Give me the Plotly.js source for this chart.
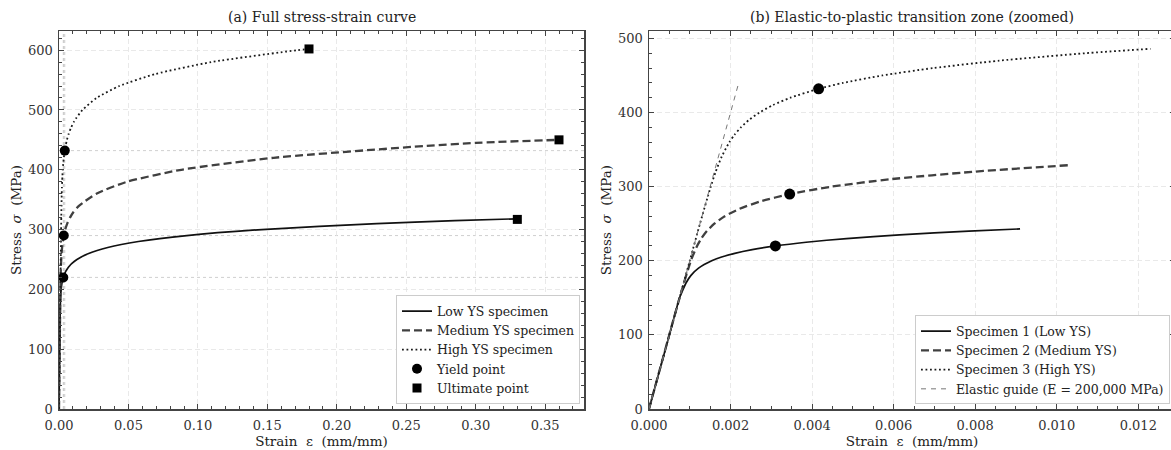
<!DOCTYPE html>
<html><head><meta charset="utf-8">
<script src="https://cdn.plot.ly/plotly-3.0.1.min.js"></script>
<style>html,body{margin:0;padding:0;overflow:hidden;background:#fff}#chart{width:1180px;height:450px}</style>
</head><body><div id="chart"></div>
<script>
// ---- data ----
var s1Strain = [0, 0.0005, 0.00075, 0.000825, 0.000907, 0.001025, 0.001215, 0.001537, 0.00178, 0.002103, 0.002531, 0.0031, 0.003852, 0.004844, 0.006145, 0.007845, 0.0091, 0.01292, 0.02136, 0.03511, 0.05716, 0.09199, 0.146, 0.2288, 0.285, 0.33];
var s1Stress = [0, 100, 150, 160, 170, 180, 190, 200, 205, 210, 215, 220, 225, 230, 235, 240, 243, 250, 260, 270, 280, 290, 300, 310, 315, 318];

var s2Strain = [0, 0.00075, 0.001026, 0.001179, 0.001283, 0.001419, 0.001602, 0.001857, 0.002217, 0.002727, 0.00345, 0.004474, 0.005914, 0.007927, 0.0103, 0.01456, 0.0269, 0.04916, 0.08812, 0.1545, 0.2648, 0.30, 0.36];
var s2Stress = [0, 150, 200, 220, 230, 240, 250, 260, 270, 280, 290, 300, 310, 320, 329, 340, 360, 380, 400, 420, 440, 445, 450];

var s3Strain = [0, 0.001, 0.00125, 0.001515, 0.001635, 0.001779, 0.001971, 0.002097, 0.002254, 0.002453, 0.002708, 0.003038, 0.003467, 0.00416, 0.004762, 0.00572, 0.006969, 0.008591, 0.010694, 0.0123, 0.01689, 0.02704, 0.04337, 0.06926, 0.1096, 0.1717, 0.18];
var s3Stress = [0, 200, 250, 300, 320, 340, 360, 370, 380, 390, 400, 410, 420, 432, 440, 450, 460, 470, 480, 486, 500, 520, 540, 560, 580, 600, 602];

var zoomEnd = [0.0091, 0.0103, 0.0123];          // last strain shown in panel (b)
var yieldStrain = [0.0031, 0.00345, 0.00416];
var yieldStress = [220, 290, 432];
var ultStrain = [0.33, 0.36, 0.18];
var ultStress = [317, 450, 602];
var guideStrain = [0, 0.00218];
var guideStress = [0, 436];

var namesA = ['Low YS specimen', 'Medium YS specimen', 'High YS specimen', 'Yield point', 'Ultimate point'];
var namesB = ['Specimen 1 (Low YS)', 'Specimen 2 (Medium YS)', 'Specimen 3 (High YS)', 'Elastic guide (E = 200,000 MPa)'];
var titleA = '(a) Full stress-strain curve';
var titleB = '(b) Elastic-to-plastic transition zone (zoomed)';

// ---- styles ----
var FONT = 'DejaVu Serif, serif';
var lineStyles = [
  {color: '#111111', width: 1.7, dash: 'solid'},
  {color: '#404040', width: 2.3, dash: '8px,4px'},
  {color: '#1a1a1a', width: 1.8, dash: '1.8px,2.7px'}
];
var S = [[s1Strain, s1Stress], [s2Strain, s2Stress], [s3Strain, s3Stress]];

function cut(xs, ys, xmax) {
  var ox = [], oy = [];
  for (var i = 0; i < xs.length; i++) { if (xs[i] <= xmax + 1e-9) { ox.push(xs[i]); oy.push(ys[i]); } }
  return [ox, oy];
}

var traces = [];
for (var k = 0; k < 3; k++) {
  traces.push({x: S[k][0], y: S[k][1], type: 'scatter', mode: 'lines', name: namesA[k],
    line: Object.assign({shape: 'spline', smoothing: 0.6}, lineStyles[k]), xaxis: 'x', yaxis: 'y', legend: 'legend'});
}
traces.push({x: yieldStrain, y: yieldStress, type: 'scatter', mode: 'markers', name: namesA[3],
  marker: {symbol: 'circle', size: 10, color: '#000'}, xaxis: 'x', yaxis: 'y', legend: 'legend'});
traces.push({x: ultStrain, y: ultStress, type: 'scatter', mode: 'markers', name: namesA[4],
  marker: {symbol: 'square', size: 9, color: '#000'}, xaxis: 'x', yaxis: 'y', legend: 'legend'});

for (var k = 0; k < 3; k++) {
  var c = cut(S[k][0], S[k][1], zoomEnd[k]);
  traces.push({x: c[0], y: c[1], type: 'scatter', mode: 'lines', name: namesB[k],
    line: Object.assign({shape: 'spline', smoothing: 0.6}, lineStyles[k]), xaxis: 'x2', yaxis: 'y2', legend: 'legend2'});
}
traces.push({x: guideStrain, y: guideStress, type: 'scatter', mode: 'lines', name: namesB[3],
  line: {color: '#777777', width: 1, dash: '5px,5px'}, xaxis: 'x2', yaxis: 'y2', legend: 'legend2'});
traces.push({x: yieldStrain, y: yieldStress, type: 'scatter', mode: 'markers', showlegend: false,
  marker: {symbol: 'circle', size: 11, color: '#000'}, xaxis: 'x2', yaxis: 'y2'});

var shapes = [];
for (var i = 0; i < 3; i++) {
  shapes.push({type: 'line', xref: 'x domain', x0: 0, x1: 1, yref: 'y', y0: yieldStress[i], y1: yieldStress[i],
    line: {color: '#c4c4c4', width: 0.8, dash: 'dot'}, layer: 'below'});
  shapes.push({type: 'line', yref: 'y domain', y0: 0, y1: 1, xref: 'x', x0: yieldStrain[i], x1: yieldStrain[i],
    line: {color: '#c4c4c4', width: 0.8, dash: 'dot'}, layer: 'below'});
}

function axis(extra) {
  return Object.assign({
    showline: true, linecolor: '#444', linewidth: 1.5, mirror: 'allticks',
    ticks: 'inside', ticklen: 5, tickwidth: 1, tickcolor: '#444',
    showgrid: true, gridcolor: '#e4e4e4', gridwidth: 0.8, griddash: '5px,3px',
    zeroline: false, automargin: false,
    tickfont: {family: FONT, size: 13, color: '#333'}
  }, extra);
}

var W = 1180, L = 59, R = 5, PW = W - L - R;
var TF = {family: FONT, size: 13.5, color: '#222'};
var layout = {
  width: W, height: 450,
  margin: {l: L, r: R, t: 31, b: 41},
  paper_bgcolor: '#fff', plot_bgcolor: '#fff',
  font: {family: FONT, color: '#222'},
  hovermode: false,
  xaxis: axis({domain: [0, (584 - L) / PW], range: [0, 0.378], dtick: 0.05, tickformat: '.2f', anchor: 'y',
    ticklabelstandoff: 4,
    minor: {dtick: 0.01, ticks: 'inside', ticklen: 3, tickcolor: '#444', showgrid: false},
    title: {text: 'Strain  ε  (mm/mm)', font: TF, standoff: 0}}),
  yaxis: axis({domain: [0, 1], range: [0, 632], dtick: 100, anchor: 'x',
    ticklabelstandoff: 2,
    minor: {dtick: 20, ticks: 'inside', ticklen: 3, tickcolor: '#444', showgrid: false},
    title: {text: 'Stress  <i>σ</i>  (MPa)', font: TF, standoff: 3}}),
  xaxis2: axis({domain: [(649 - L) / PW, 1], range: [0, 0.0129], dtick: 0.002, tickformat: '.3f', anchor: 'y2',
    ticklabelstandoff: 4,
    minor: {dtick: 0.0005, ticks: 'inside', ticklen: 3, tickcolor: '#444', showgrid: false},
    title: {text: 'Strain  ε  (mm/mm)', font: TF, standoff: 0}}),
  yaxis2: axis({domain: [0, 1], range: [0, 510], dtick: 100, anchor: 'x2',
    ticklabelstandoff: 2,
    minor: {dtick: 20, ticks: 'inside', ticklen: 3, tickcolor: '#444', showgrid: false},
    title: {text: 'Stress  <i>σ</i>  (MPa)', font: TF, standoff: 3}}),
  legend: {x: (580 - L) / PW, xanchor: 'right', y: 0.012, yanchor: 'bottom',
    bgcolor: '#fff', bordercolor: '#cccccc', borderwidth: 1,
    font: {family: FONT, size: 12.5, color: '#222'}, itemwidth: 30},
  legend2: {x: (1170 - L) / PW, xanchor: 'right', y: 0.012, yanchor: 'bottom',
    bgcolor: '#fff', bordercolor: '#cccccc', borderwidth: 1,
    font: {family: FONT, size: 12.5, color: '#222'}, itemwidth: 30},
  annotations: [
    {text: titleA, xref: 'paper', yref: 'paper', x: (321.5 - L) / PW, y: 1.037, xanchor: 'center', yanchor: 'middle',
      showarrow: false, font: {family: FONT, size: 14, color: '#222'}},
    {text: titleB, xref: 'paper', yref: 'paper', x: (912 - L) / PW, y: 1.037, xanchor: 'center', yanchor: 'middle',
      showarrow: false, font: {family: FONT, size: 14, color: '#222'}}
  ],
  shapes: shapes
};

Plotly.newPlot('chart', traces, layout, {displayModeBar: false, staticPlot: true});
</script></body></html>
